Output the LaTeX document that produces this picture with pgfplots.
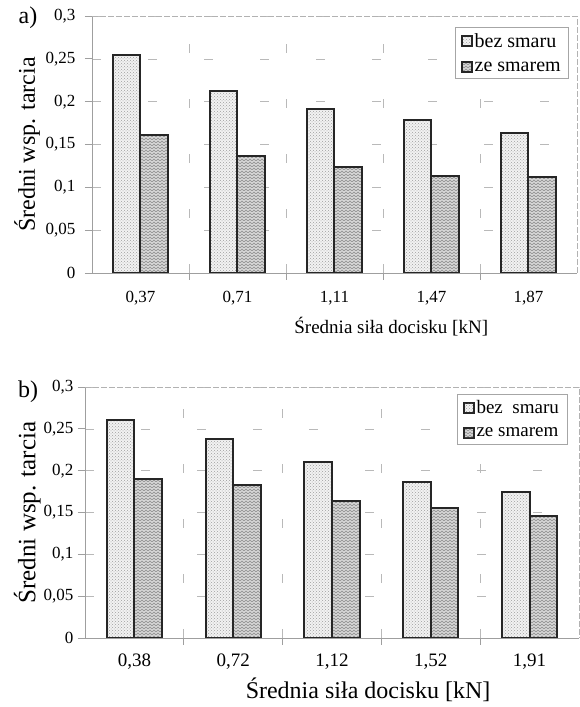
\documentclass[border=0pt]{standalone}
\usepackage{pgfplots}
\pgfplotsset{compat=1.18}
\usepackage{fontspec}
\setmainfont{Liberation Serif}
\usetikzlibrary{patterns}
\pgfdeclarepatternformonly{zigzag}{\pgfqpoint{-1pt}{-1pt}}{\pgfqpoint{5pt}{5pt}}{\pgfqpoint{4pt}{3pt}}{
  \pgfsetlinewidth{0.9pt}
  \pgfpathmoveto{\pgfqpoint{0pt}{0pt}}
  \pgfpathlineto{\pgfqpoint{2pt}{2pt}}
  \pgfpathlineto{\pgfqpoint{4pt}{0pt}}
  \pgfusepath{stroke}
}
\newcommand{\fs}[1]{\fontsize{#1}{#1}\selectfont}

\pgfplotstableread{
x  bez    ze
0  0.255  0.161
1  0.213  0.136
2  0.192  0.124
3  0.179  0.113
4  0.164  0.112
}\dataA
\pgfplotstableread{
x  bez    ze
0  0.260  0.190
1  0.238  0.183
2  0.210  0.164
3  0.186  0.155
4  0.175  0.146
}\dataB

\pgfplotsset{
  mybar/.style={
    scale only axis,
    ybar=0pt, bar width=0.28,
    xmin=-0.5, xmax=4.5, ymin=0, ymax=0.3,
    axis x line=bottom, axis y line=left,
    axis line style={-, draw=gray!75, line width=0.8pt},
    xtick={0,...,4},
    minor xtick={0.5,1.5,2.5,3.5},
    major x tick style={draw=none},
    minor x tick style={draw=gray!75, line width=0.8pt},
    ytick={0,0.05,0.1,0.15,0.2,0.25,0.3},
    yticklabels={0,{0,05},{0,1},{0,15},{0,2},{0,25},{0,3}},
    y tick style={draw=gray!75, line width=0.8pt},
    tick align=outside,
    major tick length=7pt, minor tick length=7pt,
    ymajorgrids=true, xminorgrids=true,
    major grid style={draw=gray!55, line width=0.6pt, dash pattern=on 9pt off 47pt},
    minor grid style={draw=gray!55, line width=0.6pt, dash pattern=on 9pt off 46pt},
    legend cell align=left,
    legend style={draw=gray!70, line width=0.6pt, inner xsep=6pt, inner ysep=4pt, row sep=9pt},
    legend image code/.code={\draw[#1, line width=1.4pt] (0pt,-5pt) rectangle (10pt,5pt);},
    after end axis/.code={
      \draw[gray!60, line width=0.7pt, dash pattern=on 6pt off 2pt] (rel axis cs:0,1) -- (rel axis cs:1,1) -- (rel axis cs:1,0);
    },
  },
  barA/.style={draw=black!85, line width=2pt, preaction={fill=gray!10}, pattern=crosshatch dots, pattern color=gray!75},
  barB/.style={draw=black!85, line width=2pt, preaction={fill=gray!25}, pattern=zigzag, pattern color=gray!80},
}

\begin{document}
\begin{tikzpicture}
\useasboundingbox (0pt,0pt) rectangle (579pt,707pt);
\node[font=\fs{24}, anchor=center] at (28pt,689pt) {a)};
\begin{axis}[mybar,
  at={(92pt,434pt)}, anchor=south west,
  width=485pt, height=257pt,
  yticklabel style={font=\fs{17}, xshift=-6pt},
  xticklabels={{0,37},{0,71},{1,11},{1,47},{1,87}},
  xticklabel style={font=\fs{17}, yshift=-8pt},
  xlabel={Średnia siła docisku [kN]},
  xlabel style={font=\fs{19}, at={(axis description cs:0.617,-0.21)}, anchor=center},
  ylabel={Średni wsp. tarcia},
  ylabel style={font=\fs{24}, at={(axis description cs:-0.134,0.5)}, anchor=center},
  legend style={font=\fs{20}, at={(axis description cs:0.9835,0.957)}, anchor=north east},
]
\addplot[barA] table[x=x,y=bez] {\dataA};
\addplot[barB] table[x=x,y=ze] {\dataA};
\legend{bez smaru, ze smarem}
\end{axis}

\node[font=\fs{24}, anchor=center] at (28pt,315pt) {b)};
\begin{axis}[mybar,
  at={(85pt,69pt)}, anchor=south west,
  width=494pt, height=251pt,
  yticklabel style={font=\fs{17}, xshift=-1pt},
  xticklabels={{0,38},{0,72},{1,12},{1,52},{1,91}},
  xticklabel style={font=\fs{19}, yshift=-5pt},
  xlabel={Średnia siła docisku [kN]},
  xlabel style={font=\fs{24}, at={(axis description cs:0.573,-0.207)}, anchor=center},
  ylabel={Średni wsp. tarcia},
  ylabel style={font=\fs{25}, at={(axis description cs:-0.117,0.5)}, anchor=center},
  legend style={font=\fs{19}, at={(axis description cs:0.976,0.972)}, anchor=north east},
]
\addplot[barA] table[x=x,y=bez] {\dataB};
\addplot[barB] table[x=x,y=ze] {\dataB};
\legend{bez\ \ smaru, ze smarem}
\end{axis}
\end{tikzpicture}
\end{document}
